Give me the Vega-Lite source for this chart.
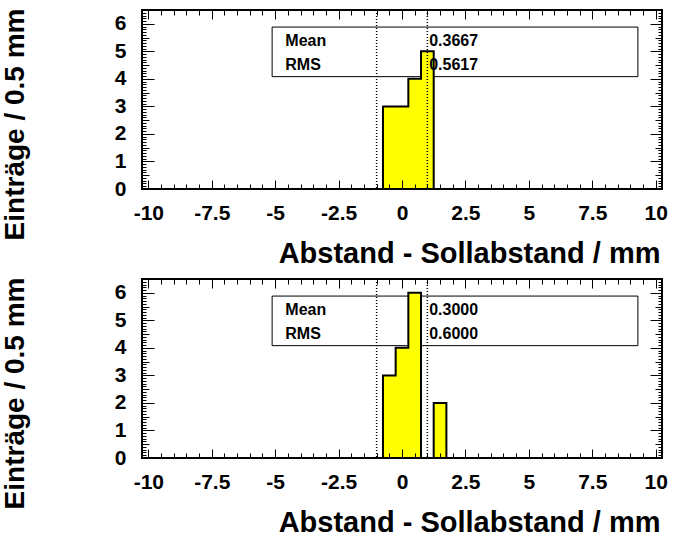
{
  "$schema": "https://vega.github.io/schema/vega-lite/v6.json",
  "background": "white",
  "padding": {"left": 0, "top": 7, "right": 0, "bottom": 0},
  "spacing": 90,
  "bounds": "flush",
  "config": {
    "view": {"stroke": "black", "strokeWidth": 2},
    "font": "Liberation Sans",
    "axis": {"grid": false, "domain": false}
  },
  "datasets": {
    "bins": [
      {"panel": "top", "lo": -0.75, "hi": -0.25, "n": 3},
      {"panel": "top", "lo": -0.25, "hi": 0.25, "n": 3},
      {"panel": "top", "lo": 0.25, "hi": 0.75, "n": 4},
      {"panel": "top", "lo": 0.75, "hi": 1.25, "n": 5},
      {"panel": "bottom", "lo": -0.75, "hi": -0.25, "n": 3},
      {"panel": "bottom", "lo": -0.25, "hi": 0.25, "n": 4},
      {"panel": "bottom", "lo": 0.25, "hi": 0.75, "n": 6},
      {"panel": "bottom", "lo": 0.75, "hi": 1.25, "n": 0},
      {"panel": "bottom", "lo": 1.25, "hi": 1.75, "n": 2}
    ],
    "stats": [
      {"panel": "top", "mean": "0.3667", "rms": "0.5617"},
      {"panel": "bottom", "mean": "0.3000", "rms": "0.6000"}
    ],
    "limits": [{"limit": -1}, {"limit": 1}]
  },
  "vconcat": [
    {
      "width": 520, "height": 179,
      "resolve": {"axis": {"x": "independent", "y": "independent"}},
      "layer": [
        {
          "data": {"name": "stats"},
          "transform": [{"filter": "datum.panel === 'top'"}],
          "mark": {"type": "rect", "fill": "white", "fillOpacity": 0, "stroke": "black", "strokeWidth": 1},
          "encoding": {
            "x": {"datum": -5.12, "type": "quantitative", "scale": {"domain": [-10.25, 10.25], "nice": false, "zero": false},
              "axis": {"orient": "top", "values": [-10,-9.5,-9,-8.5,-8,-7.5,-7,-6.5,-6,-5.5,-5,-4.5,-4,-3.5,-3,-2.5,-2,-1.5,-1,-0.5,0,0.5,1,1.5,2,2.5,3,3.5,4,4.5,5,5.5,6,6.5,7,7.5,8,8.5,9,9.5,10],
                "tickSize": {"condition": {"test": "abs(datum.value/2.5 - round(datum.value/2.5)) < 0.001", "value": -9}, "value": -5},
                "tickColor": "black", "tickWidth": 1, "labels": false, "title": null, "zindex": 1}},
            "x2": {"datum": 9.3},
            "y": {"datum": 5.88, "type": "quantitative", "scale": {"domain": [0, 6.5], "nice": false, "zero": true},
              "axis": {"orient": "right", "values": [0,0.1,0.2,0.3,0.4,0.5,0.6,0.7,0.8,0.9,1,1.1,1.2,1.3,1.4,1.5,1.6,1.7,1.8,1.9,2,2.1,2.2,2.3,2.4,2.5,2.6,2.7,2.8,2.9,3,3.1,3.2,3.3,3.4,3.5,3.6,3.7,3.8,3.9,4,4.1,4.2,4.3,4.4,4.5,4.6,4.7,4.8,4.9,5,5.1,5.2,5.3,5.4,5.5,5.6,5.7,5.8,5.9,6,6.1,6.2,6.3,6.4,6.5],
                "tickSize": {"condition": [{"test": "abs(datum.value - round(datum.value)) < 0.001", "value": -12}, {"test": "abs(datum.value*2 - round(datum.value*2)) < 0.001", "value": -7}], "value": -4},
                "tickColor": "black", "tickWidth": 1, "labels": false, "title": null, "zindex": 1}},
            "y2": {"datum": 4.08}
          }
        },
        {
          "data": {"name": "bins"},
          "transform": [{"filter": "datum.panel === 'top'"}, {"fold": ["lo", "hi"], "as": ["side", "edge"]}],
          "mark": {"type": "area", "fill": "#ffff00", "stroke": "black", "strokeWidth": 2, "opacity": 1, "interpolate": "linear"},
          "encoding": {
            "x": {"field": "edge", "type": "quantitative", "scale": {"domain": [-10.25, 10.25], "nice": false, "zero": false},
              "axis": {"orient": "bottom", "values": [-10,-9.5,-9,-8.5,-8,-7.5,-7,-6.5,-6,-5.5,-5,-4.5,-4,-3.5,-3,-2.5,-2,-1.5,-1,-0.5,0,0.5,1,1.5,2,2.5,3,3.5,4,4.5,5,5.5,6,6.5,7,7.5,8,8.5,9,9.5,10],
                "tickSize": {"condition": {"test": "abs(datum.value/2.5 - round(datum.value/2.5)) < 0.001", "value": -9}, "value": -5},
                "tickColor": "black", "tickWidth": 1,
                "labelExpr": "abs(datum.value/2.5 - round(datum.value/2.5)) < 0.001 ? '' + datum.value : ''",
                "labelFont": "Liberation Sans", "labelFontWeight": "bold", "labelFontSize": 21, "labelColor": "black",
                "labelBaseline": "alphabetic", "labelPadding": 39, "labelOverlap": false, "labelFlush": false,
                "title": "Abstand - Sollabstand / mm", "titleFont": "Liberation Sans", "titleFontWeight": "bold", "titleFontSize": 29, "titleColor": "black",
                "titleAnchor": "end", "titleAlign": "right", "titleBaseline": "alphabetic", "titleX": 518, "titleY": 73, "zindex": 1}},
            "y": {"field": "n", "type": "quantitative", "stack": null, "scale": {"domain": [0, 6.5], "nice": false, "zero": true},
              "axis": {"orient": "left", "values": [0,0.1,0.2,0.3,0.4,0.5,0.6,0.7,0.8,0.9,1,1.1,1.2,1.3,1.4,1.5,1.6,1.7,1.8,1.9,2,2.1,2.2,2.3,2.4,2.5,2.6,2.7,2.8,2.9,3,3.1,3.2,3.3,3.4,3.5,3.6,3.7,3.8,3.9,4,4.1,4.2,4.3,4.4,4.5,4.6,4.7,4.8,4.9,5,5.1,5.2,5.3,5.4,5.5,5.6,5.7,5.8,5.9,6,6.1,6.2,6.3,6.4,6.5],
                "tickSize": {"condition": [{"test": "abs(datum.value - round(datum.value)) < 0.001", "value": -12}, {"test": "abs(datum.value*2 - round(datum.value*2)) < 0.001", "value": -7}], "value": -4},
                "tickColor": "black", "tickWidth": 1,
                "labelExpr": "abs(datum.value - round(datum.value)) < 0.001 ? '' + datum.value : ''",
                "labelFont": "Liberation Sans", "labelFontWeight": "bold",
                "labelFontSize": {"condition": {"test": "abs(datum.value - round(datum.value)) < 0.001", "value": 21}, "value": 0},
                "labelColor": "black",
                "labelPadding": 28, "labelOverlap": false, "labelFlush": false,
                "title": "Einträge / 0.5 mm", "titleFont": "Liberation Sans", "titleFontWeight": "bold", "titleFontSize": 28, "titleColor": "black",
                "titleAnchor": "end", "titleAlign": "right", "titleBaseline": "alphabetic", "titleX": -119, "titleY": -2, "zindex": 1}},
            "order": [{"field": "edge", "type": "quantitative"}, {"field": "side", "type": "ordinal"}]
          }
        },
        {
          "data": {"name": "limits"},
          "mark": {"type": "rule", "stroke": "black", "strokeWidth": 1.5, "strokeDash": [1, 2]},
          "encoding": {"x": {"field": "limit", "type": "quantitative", "scale": {"domain": [-10.25, 10.25], "nice": false, "zero": false}, "axis": null}}
        },
        {
          "data": {"name": "stats"},
          "transform": [{"filter": "datum.panel === 'top'"}],
          "mark": {"type": "text", "text": "Mean", "align": "left", "baseline": "middle", "font": "Liberation Sans", "fontWeight": "bold", "fontSize": 16, "color": "black"},
          "encoding": {"x": {"datum": -4.6, "type": "quantitative", "axis": null}, "y": {"datum": 5.37, "type": "quantitative", "axis": null}}
        },
        {
          "data": {"name": "stats"},
          "transform": [{"filter": "datum.panel === 'top'"}],
          "mark": {"type": "text", "text": "RMS", "align": "left", "baseline": "middle", "font": "Liberation Sans", "fontWeight": "bold", "fontSize": 16, "color": "black"},
          "encoding": {"x": {"datum": -4.6, "type": "quantitative", "axis": null}, "y": {"datum": 4.52, "type": "quantitative", "axis": null}}
        },
        {
          "data": {"name": "stats"},
          "transform": [{"filter": "datum.panel === 'top'"}],
          "mark": {"type": "text", "align": "left", "baseline": "middle", "font": "Liberation Sans", "fontWeight": "bold", "fontSize": 16, "color": "black"},
          "encoding": {"x": {"datum": 1.07, "type": "quantitative", "axis": null}, "y": {"datum": 5.37, "type": "quantitative", "axis": null}, "text": {"field": "mean"}}
        },
        {
          "data": {"name": "stats"},
          "transform": [{"filter": "datum.panel === 'top'"}],
          "mark": {"type": "text", "align": "left", "baseline": "middle", "font": "Liberation Sans", "fontWeight": "bold", "fontSize": 16, "color": "black"},
          "encoding": {"x": {"datum": 1.07, "type": "quantitative", "axis": null}, "y": {"datum": 4.52, "type": "quantitative", "axis": null}, "text": {"field": "rms"}}
        }
      ]
    },
    {
      "width": 520, "height": 179,
      "resolve": {"axis": {"x": "independent", "y": "independent"}},
      "layer": [
        {
          "data": {"name": "stats"},
          "transform": [{"filter": "datum.panel === 'bottom'"}],
          "mark": {"type": "rect", "fill": "white", "fillOpacity": 0, "stroke": "black", "strokeWidth": 1},
          "encoding": {
            "x": {"datum": -5.12, "type": "quantitative", "scale": {"domain": [-10.25, 10.25], "nice": false, "zero": false},
              "axis": {"orient": "top", "values": [-10,-9.5,-9,-8.5,-8,-7.5,-7,-6.5,-6,-5.5,-5,-4.5,-4,-3.5,-3,-2.5,-2,-1.5,-1,-0.5,0,0.5,1,1.5,2,2.5,3,3.5,4,4.5,5,5.5,6,6.5,7,7.5,8,8.5,9,9.5,10],
                "tickSize": {"condition": {"test": "abs(datum.value/2.5 - round(datum.value/2.5)) < 0.001", "value": -9}, "value": -5},
                "tickColor": "black", "tickWidth": 1, "labels": false, "title": null, "zindex": 1}},
            "x2": {"datum": 9.3},
            "y": {"datum": 5.88, "type": "quantitative", "scale": {"domain": [0, 6.5], "nice": false, "zero": true},
              "axis": {"orient": "right", "values": [0,0.1,0.2,0.3,0.4,0.5,0.6,0.7,0.8,0.9,1,1.1,1.2,1.3,1.4,1.5,1.6,1.7,1.8,1.9,2,2.1,2.2,2.3,2.4,2.5,2.6,2.7,2.8,2.9,3,3.1,3.2,3.3,3.4,3.5,3.6,3.7,3.8,3.9,4,4.1,4.2,4.3,4.4,4.5,4.6,4.7,4.8,4.9,5,5.1,5.2,5.3,5.4,5.5,5.6,5.7,5.8,5.9,6,6.1,6.2,6.3,6.4,6.5],
                "tickSize": {"condition": [{"test": "abs(datum.value - round(datum.value)) < 0.001", "value": -12}, {"test": "abs(datum.value*2 - round(datum.value*2)) < 0.001", "value": -7}], "value": -4},
                "tickColor": "black", "tickWidth": 1, "labels": false, "title": null, "zindex": 1}},
            "y2": {"datum": 4.08}
          }
        },
        {
          "data": {"name": "bins"},
          "transform": [{"filter": "datum.panel === 'bottom'"}, {"fold": ["lo", "hi"], "as": ["side", "edge"]}],
          "mark": {"type": "area", "fill": "#ffff00", "stroke": "black", "strokeWidth": 2, "opacity": 1, "interpolate": "linear"},
          "encoding": {
            "x": {"field": "edge", "type": "quantitative", "scale": {"domain": [-10.25, 10.25], "nice": false, "zero": false},
              "axis": {"orient": "bottom", "values": [-10,-9.5,-9,-8.5,-8,-7.5,-7,-6.5,-6,-5.5,-5,-4.5,-4,-3.5,-3,-2.5,-2,-1.5,-1,-0.5,0,0.5,1,1.5,2,2.5,3,3.5,4,4.5,5,5.5,6,6.5,7,7.5,8,8.5,9,9.5,10],
                "tickSize": {"condition": {"test": "abs(datum.value/2.5 - round(datum.value/2.5)) < 0.001", "value": -9}, "value": -5},
                "tickColor": "black", "tickWidth": 1,
                "labelExpr": "abs(datum.value/2.5 - round(datum.value/2.5)) < 0.001 ? '' + datum.value : ''",
                "labelFont": "Liberation Sans", "labelFontWeight": "bold", "labelFontSize": 21, "labelColor": "black",
                "labelBaseline": "alphabetic", "labelPadding": 39, "labelOverlap": false, "labelFlush": false,
                "title": "Abstand - Sollabstand / mm", "titleFont": "Liberation Sans", "titleFontWeight": "bold", "titleFontSize": 29, "titleColor": "black",
                "titleAnchor": "end", "titleAlign": "right", "titleBaseline": "alphabetic", "titleX": 518, "titleY": 73, "zindex": 1}},
            "y": {"field": "n", "type": "quantitative", "stack": null, "scale": {"domain": [0, 6.5], "nice": false, "zero": true},
              "axis": {"orient": "left", "values": [0,0.1,0.2,0.3,0.4,0.5,0.6,0.7,0.8,0.9,1,1.1,1.2,1.3,1.4,1.5,1.6,1.7,1.8,1.9,2,2.1,2.2,2.3,2.4,2.5,2.6,2.7,2.8,2.9,3,3.1,3.2,3.3,3.4,3.5,3.6,3.7,3.8,3.9,4,4.1,4.2,4.3,4.4,4.5,4.6,4.7,4.8,4.9,5,5.1,5.2,5.3,5.4,5.5,5.6,5.7,5.8,5.9,6,6.1,6.2,6.3,6.4,6.5],
                "tickSize": {"condition": [{"test": "abs(datum.value - round(datum.value)) < 0.001", "value": -12}, {"test": "abs(datum.value*2 - round(datum.value*2)) < 0.001", "value": -7}], "value": -4},
                "tickColor": "black", "tickWidth": 1,
                "labelExpr": "abs(datum.value - round(datum.value)) < 0.001 ? '' + datum.value : ''",
                "labelFont": "Liberation Sans", "labelFontWeight": "bold",
                "labelFontSize": {"condition": {"test": "abs(datum.value - round(datum.value)) < 0.001", "value": 21}, "value": 0},
                "labelColor": "black",
                "labelPadding": 28, "labelOverlap": false, "labelFlush": false,
                "title": "Einträge / 0.5 mm", "titleFont": "Liberation Sans", "titleFontWeight": "bold", "titleFontSize": 28, "titleColor": "black",
                "titleAnchor": "end", "titleAlign": "right", "titleBaseline": "alphabetic", "titleX": -119, "titleY": -2, "zindex": 1}},
            "order": [{"field": "edge", "type": "quantitative"}, {"field": "side", "type": "ordinal"}]
          }
        },
        {
          "data": {"name": "limits"},
          "mark": {"type": "rule", "stroke": "black", "strokeWidth": 1.5, "strokeDash": [1, 2]},
          "encoding": {"x": {"field": "limit", "type": "quantitative", "scale": {"domain": [-10.25, 10.25], "nice": false, "zero": false}, "axis": null}}
        },
        {
          "data": {"name": "stats"},
          "transform": [{"filter": "datum.panel === 'bottom'"}],
          "mark": {"type": "text", "text": "Mean", "align": "left", "baseline": "middle", "font": "Liberation Sans", "fontWeight": "bold", "fontSize": 16, "color": "black"},
          "encoding": {"x": {"datum": -4.6, "type": "quantitative", "axis": null}, "y": {"datum": 5.37, "type": "quantitative", "axis": null}}
        },
        {
          "data": {"name": "stats"},
          "transform": [{"filter": "datum.panel === 'bottom'"}],
          "mark": {"type": "text", "text": "RMS", "align": "left", "baseline": "middle", "font": "Liberation Sans", "fontWeight": "bold", "fontSize": 16, "color": "black"},
          "encoding": {"x": {"datum": -4.6, "type": "quantitative", "axis": null}, "y": {"datum": 4.52, "type": "quantitative", "axis": null}}
        },
        {
          "data": {"name": "stats"},
          "transform": [{"filter": "datum.panel === 'bottom'"}],
          "mark": {"type": "text", "align": "left", "baseline": "middle", "font": "Liberation Sans", "fontWeight": "bold", "fontSize": 16, "color": "black"},
          "encoding": {"x": {"datum": 1.07, "type": "quantitative", "axis": null}, "y": {"datum": 5.37, "type": "quantitative", "axis": null}, "text": {"field": "mean"}}
        },
        {
          "data": {"name": "stats"},
          "transform": [{"filter": "datum.panel === 'bottom'"}],
          "mark": {"type": "text", "align": "left", "baseline": "middle", "font": "Liberation Sans", "fontWeight": "bold", "fontSize": 16, "color": "black"},
          "encoding": {"x": {"datum": 1.07, "type": "quantitative", "axis": null}, "y": {"datum": 4.52, "type": "quantitative", "axis": null}, "text": {"field": "rms"}}
        }
      ]
    }
  ]
}
